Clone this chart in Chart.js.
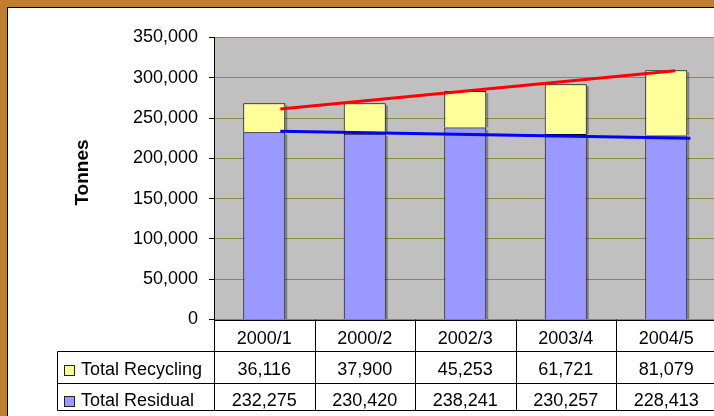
<!DOCTYPE html>
<html lang="en">
<head>
    <meta charset="UTF-8">
    <title>Tonnes</title>
    <script src="https://cdn.jsdelivr.net/npm/chart.js@4/dist/chart.umd.min.js"></script>
    <style>
        html, body { margin: 0; width: 714px; height: 416px; overflow: hidden; background: #BF7F2F; }
        #frame { position: absolute; left: 7px; top: 7px; width: 720px; height: 420px;
                 background: #fff; border-left: 1px solid #000; border-top: 1px solid #000; }
        canvas { display: block; }
    </style>
</head>
<body>
<div id="frame"><canvas id="canvas" width="712" height="410"></canvas></div>
<script>
    const categories = ["2000/1", "2000/2", "2002/3", "2003/4", "2004/5"];
    const recycling = [36116, 37900, 45253, 61721, 81079];
    const residual = [232275, 230420, 238241, 230257, 228413];
    const yTicks = [0, 50000, 100000, 150000, 200000, 250000, 300000, 350000];
    // the two drawn trend lines (x = category position 1..5)
    const recyclingTrend = [{x: 1.16, y: 261300}, {x: 5.09, y: 308800}];
    const residualTrend = [{x: 1.16, y: 233600}, {x: 5.24, y: 224900}];

    const font = "Liberation Sans, Arial, sans-serif";
    const yellow = '#FFFF99';
    const lilac = '#9999FF';

    const barShadow = {
        id: 'barShadow',
        beforeDatasetsDraw(chart) {
            const ctx = chart.ctx;
            ctx.save();
            ctx.fillStyle = 'rgba(0,0,0,0.35)';
            chart.getSortedVisibleDatasetMetas().forEach(meta => {
                if (meta.type !== 'bar') return;
                meta.data.forEach(bar => {
                    const p = bar.getProps(['x', 'y', 'base', 'width'], true);
                    ctx.fillRect(p.x + p.width / 2, p.y + 2, 2, p.base - p.y - 2);
                });
            });
            ctx.restore();
        }
    };

    const dataTable = {
        id: 'dataTable',
        afterDraw(chart) {
            const ctx = chart.ctx;
            const area = chart.chartArea;
            const xs = chart.scales.x;
            const half = (xs.getPixelForValue(1) - xs.getPixelForValue(0)) / 2;
            const bounds = categories.map((c, i) => xs.getPixelForValue(i) - half);
            bounds.push(xs.getPixelForValue(categories.length - 1) + half);
            const top = area.bottom, r1 = 343.5, r2 = 375.5, bottom = 402.5, legLeft = 49.5;

            ctx.save();
            ctx.strokeStyle = '#000';
            ctx.lineWidth = 1;
            ctx.beginPath();
            ctx.moveTo(area.left, Math.round(top) + 0.5);
            ctx.lineTo(bounds[bounds.length - 1], Math.round(top) + 0.5);
            [r1, r2, bottom].forEach(y => { ctx.moveTo(legLeft, y); ctx.lineTo(bounds[bounds.length - 1], y); });
            bounds.forEach(x => { const bx = Math.round(x) + 0.5; ctx.moveTo(bx, top); ctx.lineTo(bx, bottom); });
            ctx.moveTo(legLeft, r1); ctx.lineTo(legLeft, bottom);
            ctx.stroke();

            ctx.fillStyle = '#000';
            ctx.font = '18px ' + font;
            ctx.textAlign = 'center';
            ctx.textBaseline = 'alphabetic';
            categories.forEach((c, i) => {
                const cx = xs.getPixelForValue(i);
                ctx.fillText(c, cx, 335.5);
                ctx.fillText(recycling[i].toLocaleString('en-US'), cx, 367);
                ctx.fillText(residual[i].toLocaleString('en-US'), cx, 397.5);
            });

            ctx.textAlign = 'left';
            ctx.fillText('Total Recycling', 73, 367);
            ctx.fillText('Total Residual', 73, 397.5);
            [[yellow, 357.5], [lilac, 388.5]].forEach(([col, y]) => {
                ctx.fillStyle = col;
                ctx.fillRect(56.5, y, 10, 10);
                ctx.strokeStyle = '#222';
                ctx.strokeRect(56.5, y, 10, 10);
            });

            // axis title
            ctx.fillStyle = '#000';
            ctx.font = 'bold 19px ' + font;
            ctx.textAlign = 'center';
            ctx.textBaseline = 'middle';
            ctx.translate(75, 164.5);
            ctx.rotate(-Math.PI / 2);
            ctx.fillText('Tonnes', 0, 0);
            ctx.restore();
        }
    };

    const plotBackground = {
        id: 'plotBackground',
        beforeDraw(chart) {
            const a = chart.chartArea;
            chart.ctx.save();
            chart.ctx.fillStyle = '#C0C0C0';
            chart.ctx.fillRect(a.left, a.top, a.right - a.left, a.bottom - a.top);
            chart.ctx.restore();
        }
    };

    const chart = new Chart('canvas', {
        data: {
            labels: categories,
            datasets: [
                {
                    type: 'bar', label: 'Total Residual', data: residual,
                    backgroundColor: lilac, borderColor: '#000', borderWidth: 1,
                    barPercentage: 0.418, categoryPercentage: 1, grouped: false, order: 2
                },
                {
                    type: 'bar', label: 'Total Recycling', data: recycling,
                    backgroundColor: yellow, borderColor: '#000', borderWidth: 1,
                    barPercentage: 0.418, categoryPercentage: 1, grouped: false, order: 2
                },
                {
                    type: 'line', data: recyclingTrend, xAxisID: 'xl', stack: 'red',
                    borderColor: '#FF0000', borderWidth: 3, pointRadius: 0, order: 0
                },
                {
                    type: 'line', data: residualTrend, xAxisID: 'xl', stack: 'blue',
                    borderColor: '#0000FF', borderWidth: 3, pointRadius: 0, order: 0
                }
            ]
        },
        options: {
            responsive: false,
            animation: false,
            devicePixelRatio: 1,
            layout: { padding: { left: 0, top: 29.5, right: 3.5, bottom: 98.5 } },
            plugins: { legend: { display: false }, tooltip: { enabled: false } },
            scales: {
                x: { display: false, stacked: true },
                xl: { type: 'linear', display: false, min: 0.5, max: 5.5 },
                y: {
                    stacked: true,
                    min: 0, max: 350000,
                    afterFit(scale) { scale.width = 206; },
                    afterBuildTicks(scale) { scale.ticks = yTicks.map(v => ({value: v})); },
                    grid: { color: '#8C8C48', lineWidth: 1, tickColor: '#000', tickLength: 5 },
                    border: { color: '#000', width: 1 },
                    ticks: {
                        color: '#000', padding: 11,
                        font: { family: font, size: 18 },
                        callback: v => v.toLocaleString('en-US')
                    }
                }
            }
        },
        plugins: [plotBackground, barShadow, dataTable]
    });
</script>
</body>
</html>
